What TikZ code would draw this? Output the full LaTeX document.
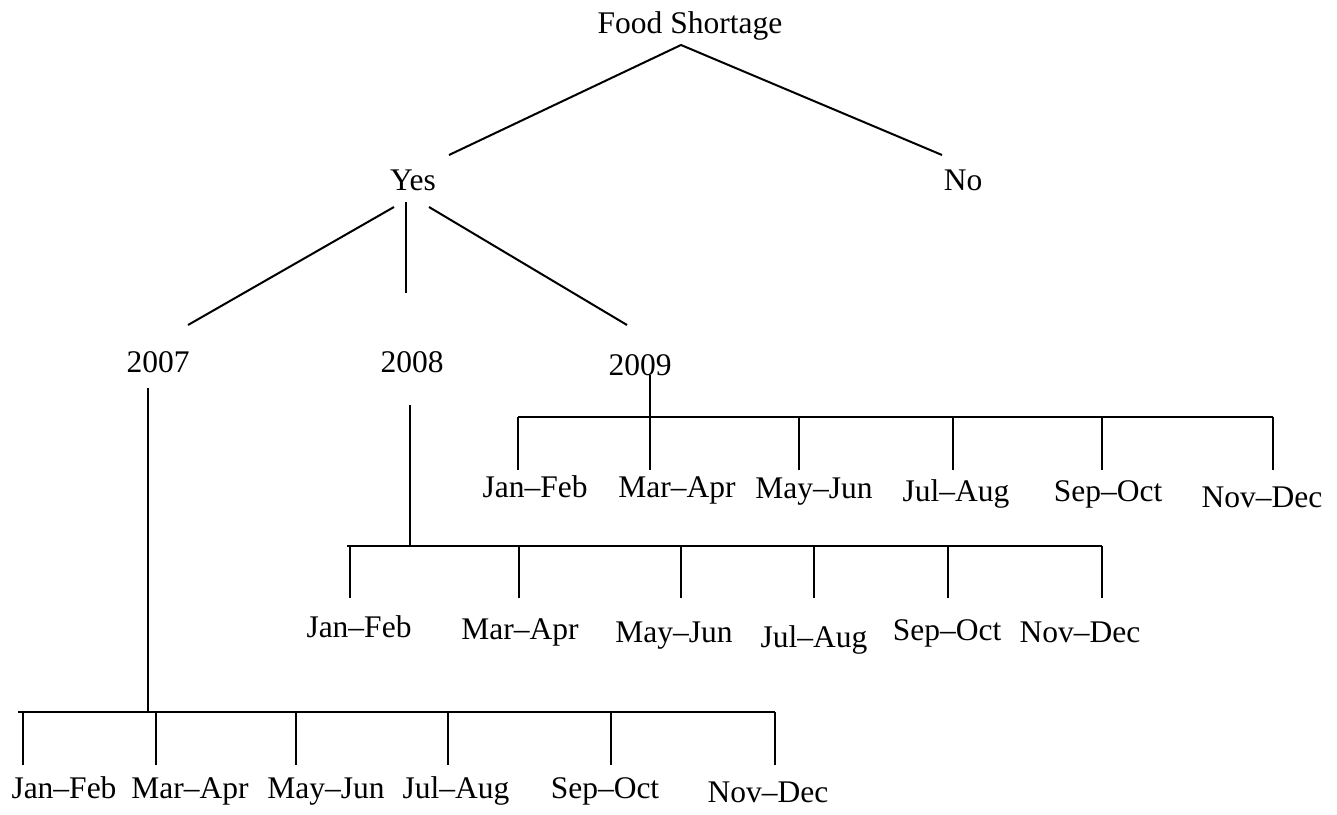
\documentclass[tikz,border=0pt]{standalone}
\usepackage{fontspec}
\setmainfont{Liberation Serif}
\begin{document}
\begin{tikzpicture}[x=1pt,y=-1pt,
  lbl/.style={anchor=base,inner sep=0pt,font=\fontsize{31.5}{36}\selectfont},
  ln/.style={line width=2pt,line cap=butt}]
\useasboundingbox (0,0) rectangle (1337,814);
% labels
\node[lbl] (root) at (690,33) {Food Shortage};
\node[lbl] (yes) at (413,190) {Yes};
\node[lbl] (no) at (963,190) {No};
\node[lbl] (y7) at (158,372) {2007};
\node[lbl] (y8) at (412,372) {2008};
\node[lbl] (y9) at (640,375) {2009};
% 2009 months
\node[lbl] (j9) at (535,497) {Jan–Feb};
\node[lbl] (m9) at (677,497) {Mar–Apr};
\node[lbl] (my9) at (814,498) {May–Jun};
\node[lbl] (jl9) at (956,501) {Jul–Aug};
\node[lbl] (s9) at (1108,501) {Sep–Oct};
\node[lbl] (n9) at (1262,507) {Nov–Dec};
% 2008 months
\node[lbl] (j8) at (359,637) {Jan–Feb};
\node[lbl] (m8) at (520,639) {Mar–Apr};
\node[lbl] (my8) at (674,642) {May–Jun};
\node[lbl] (jl8) at (814,647) {Jul–Aug};
\node[lbl] (s8) at (947,640) {Sep–Oct};
\node[lbl] (n8) at (1080,642) {Nov–Dec};
% 2007 months
\node[lbl] (j7) at (64,798) {Jan–Feb};
\node[lbl] (m7) at (190,798) {Mar–Apr};
\node[lbl] (my7) at (326,798) {May–Jun};
\node[lbl] (jl7) at (456,798) {Jul–Aug};
\node[lbl] (s7) at (605,798) {Sep–Oct};
\node[lbl] (n7) at (768,802) {Nov–Dec};
% connector end points
\coordinate (apex) at (681,45);
\coordinate (yesT) at (449,155);
\coordinate (noT) at (942,155);
\coordinate (yesL) at (394,207);
\coordinate (yesM) at (406,202);
\coordinate (yesR) at (429,207);
\coordinate (t7) at (188,325);
\coordinate (t8) at (406,293);
\coordinate (t9) at (627,325);
% 2007 tree
\coordinate (s7top) at (148,388);
\coordinate (s7bar) at (148,712);
\coordinate (b7L) at (18,712);
\coordinate (b7R) at (775,712);
% 2008 tree
\coordinate (s8top) at (410,405);
\coordinate (s8bar) at (410,546);
\coordinate (b8L) at (347,546);
\coordinate (b8R) at (1102,546);
% 2009 tree
\coordinate (s9top) at (650,375);
\coordinate (s9bar) at (650,417);
\coordinate (b9L) at (518,417);
\coordinate (b9R) at (1273,417);
% drawing
\draw[ln] (yesT) -- (apex) -- (noT);
\draw[ln] (yesL) -- (t7);
\draw[ln] (yesM) -- (t8);
\draw[ln] (yesR) -- (t9);
\draw[ln] (s7top) -- (s7bar);
\draw[ln] (b7L) -- (b7R);
\foreach \x in {23,156,296,448,611,775} \draw[ln] (\x,712) -- (\x,765);
\draw[ln] (s8top) -- (s8bar);
\draw[ln] (b8L) -- (b8R);
\foreach \x in {350,519,681,814,948,1102} \draw[ln] (\x,546) -- (\x,598);
\draw[ln] (s9top) -- (s9bar);
\draw[ln] (b9L) -- (b9R);
\foreach \x in {518,650,799,953,1102,1273} \draw[ln] (\x,417) -- (\x,470);
\end{tikzpicture}
\end{document}
